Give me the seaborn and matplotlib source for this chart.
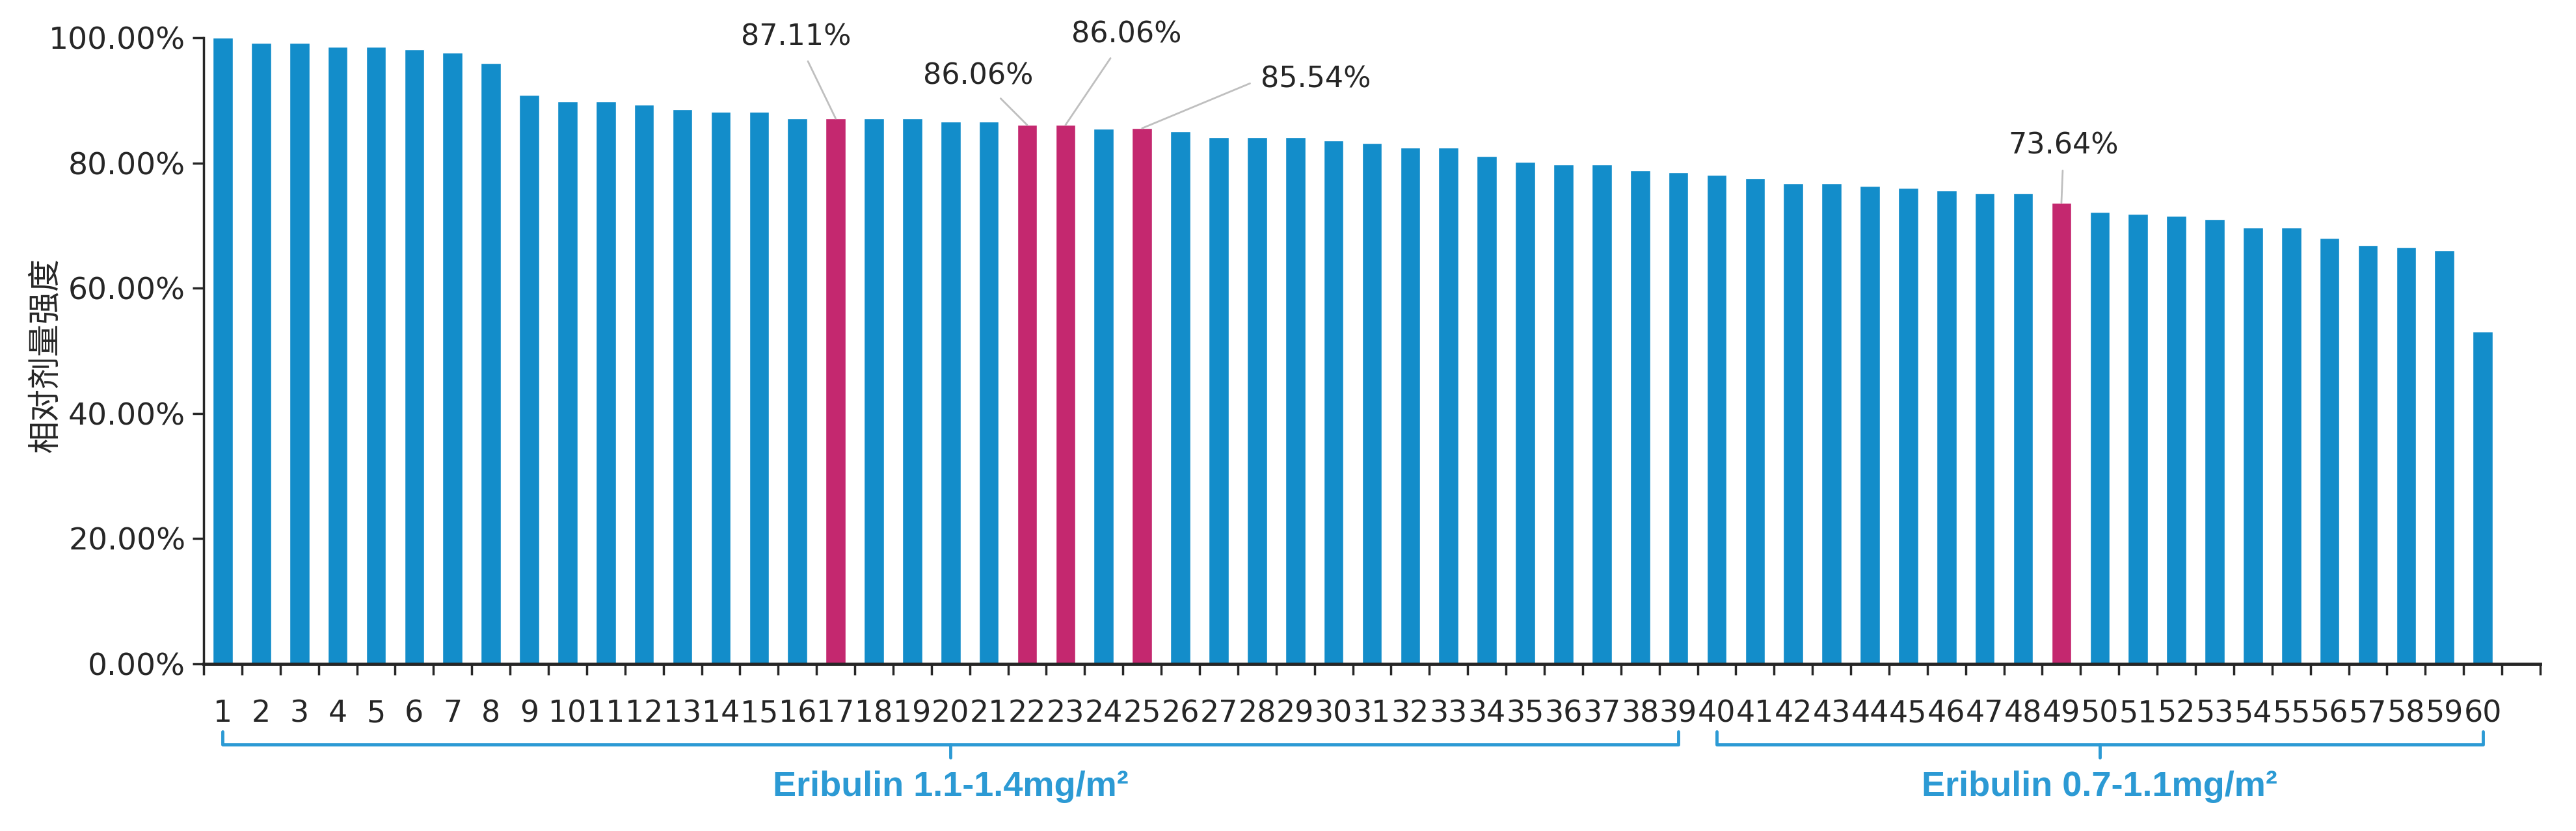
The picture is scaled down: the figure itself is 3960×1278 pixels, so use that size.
import numpy as np
import pandas as pd
import seaborn as sns
import matplotlib.pyplot as plt
from matplotlib.ticker import PercentFormatter, FixedLocator
from matplotlib.transforms import blended_transform_factory

# relative dose intensity per patient (sorted)
patients = [str(i) for i in range(1, 61)]
rdi_pct = [100.0, 99.2, 99.2, 98.5, 98.5, 98.1, 97.6, 96.0, 90.9, 89.8,
           89.8, 89.3, 88.6, 88.2, 88.2, 87.1, 87.11, 87.1, 87.1, 86.6,
           86.6, 86.06, 86.06, 85.5, 85.54, 85.0, 84.1, 84.1, 84.1, 83.6,
           83.2, 82.5, 82.5, 81.1, 80.2, 79.7, 79.7, 78.8, 78.5, 78.1,
           77.6, 76.7, 76.7, 76.3, 76.0, 75.6, 75.2, 75.2, 73.64, 72.2,
           71.9, 71.5, 71.0, 69.7, 69.7, 68.0, 66.9, 66.6, 66.0, 53.1]
highlighted = ['17', '22', '23', '25', '49']

# label text offsets (data x, axes-fraction y) for the highlighted bars
label_pos = {'17': (14.97, 1.001), '22': (19.72, 0.939), '23': (23.59, 1.005),
             '25': (27.09, 0.934), '49': (48.06, 0.828)}

groups = ['Eribulin 1.1-1.4mg/m²', 'Eribulin 0.7-1.1mg/m²']
group_span = [('1', '39'), ('40', '60')]

blue = '#138DCA'
magenta = '#C4286F'
bracket_blue = '#2C9AD4'

df = pd.DataFrame({'patient': patients, 'rdi': np.array(rdi_pct) / 100})
df['highlight'] = df['patient'].isin(highlighted)

sns.set_style('ticks')
plt.rcParams['font.family'] = ['DejaVu Sans', 'Noto Sans CJK SC']

fig = plt.figure(figsize=(39.6, 12.78), dpi=100)
ax = fig.add_axes([313 / 3960, 1 - 1021 / 1278, 3592 / 3960, 963 / 1278])

sns.barplot(data=df, x='patient', y='rdi', hue='highlight', order=patients,
            palette={False: blue, True: magenta}, dodge=False, width=0.52,
            legend=False, saturation=1, ax=ax)

ax.set_xlim(-0.5, 60.5)
ax.set_ylim(0, 1.0)
ax.set_yticks(np.arange(0, 1.01, 0.2))
ax.yaxis.set_major_formatter(PercentFormatter(xmax=1, decimals=2))
ax.set_xlabel('')
ax.set_ylabel('')
sns.despine(ax=ax)
ax.spines['left'].set_linewidth(2.5)
ax.spines['bottom'].set_linewidth(3.5)

ax.tick_params(axis='x', which='major', length=0, pad=39, labelsize=33)
ax.xaxis.set_minor_locator(FixedLocator(np.arange(-0.5, 61, 1)))
ax.tick_params(axis='x', which='minor', length=12, width=2.5, direction='out')
ax.tick_params(axis='y', length=12, width=2.5, pad=8, labelsize=34)

fig.text(70 / 3960, 1 - 546 / 1278, '相对剂量强度', rotation=90, ha='center',
         va='center', fontsize=36, family=['Noto Sans CJK SC'])

# value labels with leader lines
tr = blended_transform_factory(ax.transData, ax.transAxes)
for p in highlighted:
    i = patients.index(p)
    v = df.loc[i, 'rdi']
    tx, ty = label_pos[p]
    ha = 'left' if p == '25' else 'center'
    ax.annotate(f'{v * 100:.2f}%', xy=(i, v), xycoords='data',
                xytext=(tx, ty), textcoords=tr, ha=ha, va='center',
                fontsize=32, annotation_clip=False,
                arrowprops=dict(arrowstyle='-', color='#BFBFBF', lw=2,
                                shrinkA=10, shrinkB=0,
                                relpos=(0, 0.5) if p == '25' else (0.5, 0.5)))

# group brackets below the axis
for name, (a, b) in zip(groups, group_span):
    x0, x1 = patients.index(a), patients.index(b)
    xm = (x0 + x1) / 2
    ax.plot([x0, x0, x1, x1], [-0.108, -0.129, -0.129, -0.108], transform=tr,
            color=bracket_blue, lw=3.5, clip_on=False, solid_joinstyle='round')
    ax.plot([xm, xm], [-0.129, -0.150], transform=tr, color=bracket_blue,
            lw=3.5, clip_on=False)
    ax.text(xm, -0.196, name, transform=tr, ha='center', va='center',
            fontsize=39, fontweight='bold', color=bracket_blue,
            family=['Liberation Sans'])

fig.savefig('out.png', dpi=100)
